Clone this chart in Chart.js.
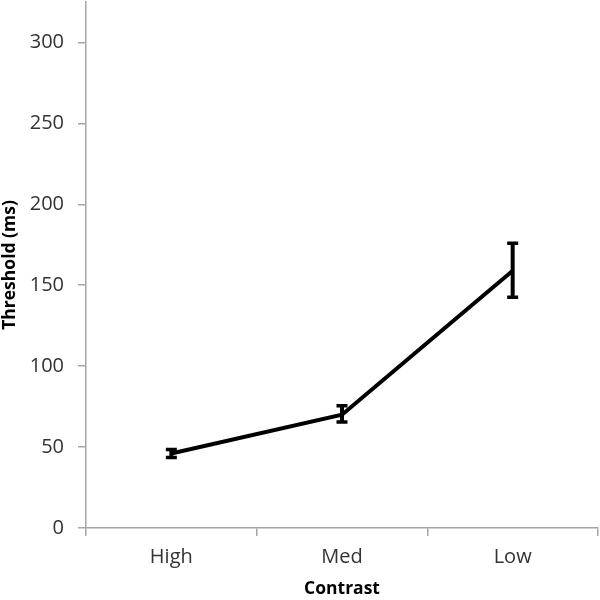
<!DOCTYPE html>
<html>
<head>
<meta charset="utf-8">
<script src="https://cdn.jsdelivr.net/npm/chart.js@4/dist/chart.umd.min.js"></script>
<style>
html,body{margin:0;padding:0;background:#fff;}
#wrap{width:600px;height:600px;position:relative;}
</style>
</head>
<body>
<div id="wrap"><canvas id="c" width="600" height="600"></canvas></div>
<script>
const categories = ["High", "Med", "Low"];
const thresholds = [46, 70, 159];
const errLower = [43.5, 65.5, 142.5];
const errUpper = [48.5, 75.5, 176];
const yTicks = [0, 50, 100, 150, 200, 250, 300];

const fontFamily = "'Open Sans', 'Liberation Sans', sans-serif";

const errorBars = {
  id: 'errorBars',
  afterDatasetsDraw(chart) {
    const ctx = chart.ctx;
    const y = chart.scales.y;
    const meta = chart.getDatasetMeta(0);
    ctx.save();
    ctx.strokeStyle = '#000';
    meta.data.forEach((pt, i) => {
      const x = pt.x;
      const yl = y.getPixelForValue(errLower[i]);
      const yu = y.getPixelForValue(errUpper[i]);
      ctx.lineWidth = 4;
      ctx.beginPath();
      ctx.moveTo(x, yl);
      ctx.lineTo(x, yu);
      ctx.stroke();
      ctx.lineWidth = 3.5;
      ctx.beginPath();
      ctx.moveTo(x - 5.5, yl);
      ctx.lineTo(x + 5.5, yl);
      ctx.moveTo(x - 5.5, yu);
      ctx.lineTo(x + 5.5, yu);
      ctx.stroke();
    });
    ctx.restore();
  }
};

new Chart(document.getElementById('c'), {
  type: 'line',
  data: {
    labels: categories,
    datasets: [{
      data: thresholds,
      borderColor: '#000',
      borderWidth: 4,
      pointRadius: 0,
      tension: 0,
      fill: false
    }]
  },
  options: {
    responsive: false,
    animation: false,
    layout: { padding: { top: 2, right: 2, left: 0, bottom: 0 } },
    plugins: { legend: { display: false }, tooltip: { enabled: false } },
    scales: {
      x: {
        offset: true,
        grid: { display: true, drawOnChartArea: false, offset: true, tickLength: 8, color: '#a6a6a6', lineWidth: 1.5 },
        border: { display: true, color: '#a6a6a6', width: 1.5 },
        ticks: { color: '#333', font: { family: fontFamily, size: 20 }, padding: 9 },
        title: { display: true, text: 'Contrast', color: '#000', font: { family: fontFamily, size: 17.5, weight: 'bold' }, padding: { top: 0, bottom: 0 } },
        afterFit(s) { s.height = 72; s.paddingLeft = 0; s.paddingRight = 0; }
      },
      y: {
        min: 0,
        max: 325,
        grid: { display: true, drawOnChartArea: false, tickLength: 8, color: '#a6a6a6', lineWidth: 1.5 },
        border: { display: true, color: '#a6a6a6', width: 1.5 },
        afterBuildTicks(s) { s.ticks = yTicks.map(v => ({ value: v })); },
        ticks: { color: '#333', font: { family: fontFamily, size: 20 }, padding: 14 },
        title: { display: true, text: 'Threshold (ms)', color: '#000', font: { family: fontFamily, size: 17.5, weight: 'bold' }, padding: { top: 0, bottom: 0 } },
        afterFit(s) { s.width = 86; s.paddingTop = 0; s.paddingBottom = 0; }
      }
    }
  },
  plugins: [errorBars]
});
</script>
</body>
</html>
